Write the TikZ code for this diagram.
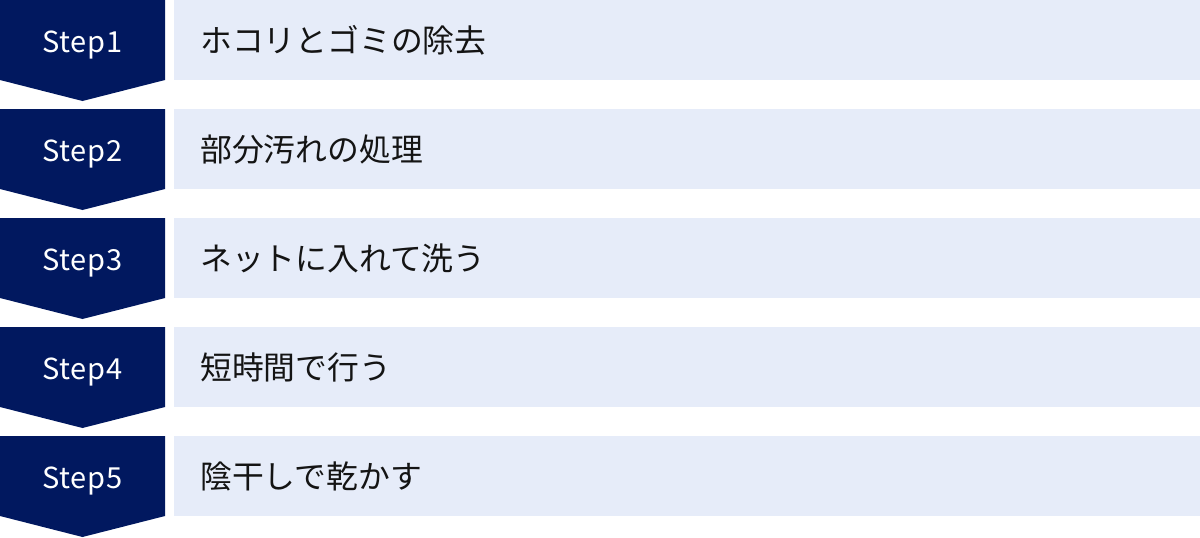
\documentclass[tikz,border=0pt]{standalone}
\usepackage{fontspec}
\setmainfont{Noto Sans CJK JP}
\definecolor{navy}{RGB}{1,24,95}
\definecolor{rowblue}{RGB}{230,236,249}
\definecolor{ink}{RGB}{20,20,20}
\tikzset{
  stepbg/.style={fill=navy},
  steplabel/.style={text=white, anchor=base, inner sep=0pt, font=\fontsize{29}{29}\selectfont\addfontfeature{LetterSpace=3}},
  rowbox/.style={fill=rowblue, anchor=north west, inner sep=0pt, minimum width=1026pt, minimum height=80pt},
  rowtext/.style={text=ink, anchor=base west, inner sep=0pt, font=\fontsize{31.8}{32}\selectfont}
}
\begin{document}
\begin{tikzpicture}[x=1pt,y=1pt]
    \useasboundingbox (0,0) rectangle (1200,-538);

    % chevrons on the left
    \fill[stepbg] (0,0) -- (165,0) -- (165,-80) -- (82.5,-101) -- (0,-80) -- cycle;
    \fill[stepbg] (0,-109) -- (165,-109) -- (165,-189) -- (82.5,-210) -- (0,-189) -- cycle;
    \fill[stepbg] (0,-218) -- (165,-218) -- (165,-298) -- (82.5,-319) -- (0,-298) -- cycle;
    \fill[stepbg] (0,-327) -- (165,-327) -- (165,-407) -- (82.5,-428) -- (0,-407) -- cycle;
    \fill[stepbg] (0,-436) -- (165,-436) -- (165,-516) -- (82.5,-537) -- (0,-516) -- cycle;

    \node[steplabel] (s1) at (82.5,-52) {Step1};
    \node[steplabel] (s2) at (82.5,-161) {Step2};
    \node[steplabel] (s3) at (82.5,-270) {Step3};
    \node[steplabel] (s4) at (82.5,-379) {Step4};
    \node[steplabel] (s5) at (82.5,-488) {Step5};

    % rows on the right
    \node[rowbox] (b1) at (174,0) {};
    \node[rowbox] (b2) at (174,-109) {};
    \node[rowbox] (b3) at (174,-218) {};
    \node[rowbox] (b4) at (174,-327) {};
    \node[rowbox] (b5) at (174,-436) {};

    \node[rowtext] (t1) at (200,-52) {ホコリとゴミの除去};
    \node[rowtext] (t2) at (200,-161) {部分汚れの処理};
    \node[rowtext] (t3) at (200,-270) {ネットに入れて洗う};
    \node[rowtext] (t4) at (200,-379) {短時間で行う};
    \node[rowtext] (t5) at (200,-488) {陰干しで乾かす};
\end{tikzpicture}
\end{document}
